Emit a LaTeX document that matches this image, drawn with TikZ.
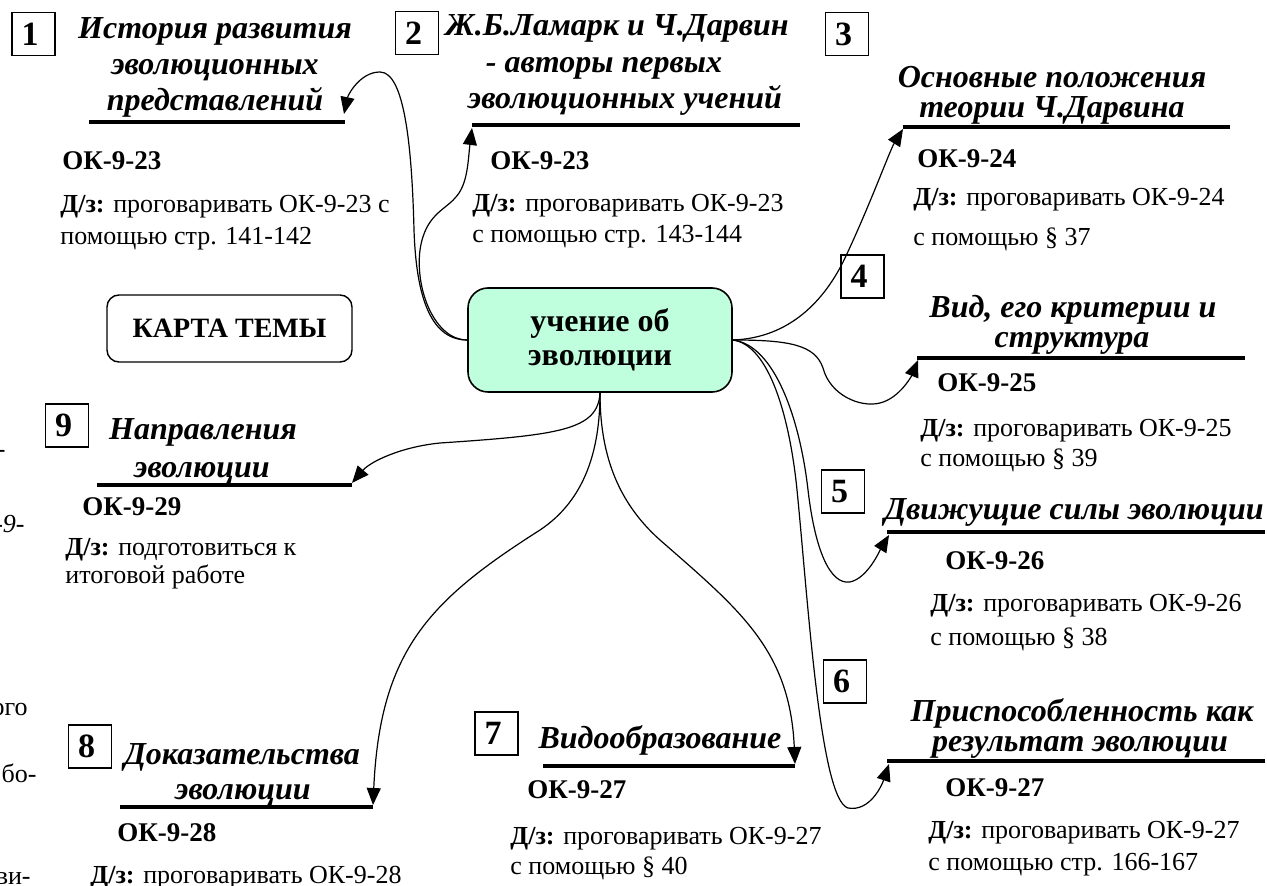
\documentclass[tikz,border=0pt]{standalone}
\usepackage{fontspec}
\setmainfont{Liberation Serif}
\usetikzlibrary{arrows.meta}
\definecolor{mint}{RGB}{191,255,221}
\newcommand\numtxt[1]{\makebox[12pt][l]{#1}}
\begin{document}
\begin{tikzpicture}[x=0.5pt,y=-0.5pt,
  numbox/.style={draw,line width=0.7pt,minimum width=21.5pt,minimum height=21.5pt,inner sep=0pt,font=\fontsize{17}{17}\selectfont\bfseries},
  ttl/.style={anchor=base,inner sep=0pt,font=\fontsize{16}{18}\selectfont\bfseries\itshape},
  ok/.style={anchor=base west,inner sep=0pt,font=\fontsize{13.5}{15}\selectfont\bfseries},
  dz/.style={anchor=base west,inner sep=0pt,font=\fontsize{13}{15}\selectfont},
  frag/.style={anchor=base east,inner sep=0pt,font=\fontsize{13}{15}\selectfont},
  uline/.style={line width=2pt},
  conn/.style={line width=0.6pt,-{Triangle[length=8.5pt,width=7pt]}},
  hub/.style={draw,fill=mint,line width=0.8pt,rounded corners=10pt,minimum width=132pt,minimum height=52pt,align=center,font=\fontsize{16}{17}\selectfont\bfseries},
  kbox/.style={draw,line width=0.7pt,rounded corners=6pt,minimum width=122.5pt,minimum height=33.5pt,font=\fontsize{14}{14}\selectfont\bfseries}]
\fill[white] (0,0) rectangle (1267,886);
\useasboundingbox (0,0) rectangle (1267,886);

% centre
\node[hub] (c) at (600,340) {учение об\\эволюции};
\node[kbox] (karta) at (229.5,328.5) {КАРТА ТЕМЫ};

% number boxes
\node[numbox] (n1) at (33.5,34) {\numtxt{1}};
\node[numbox] (n2) at (417,33) {\numtxt{2}};
\node[numbox] (n3) at (847,34) {\numtxt{3}};
\node[numbox] (n4) at (862.5,276.5) {\numtxt{4}};
\node[numbox] (n5) at (843,491.5) {\numtxt{5}};
\node[numbox] (n6) at (845,681.5) {\numtxt{6}};
\node[numbox] (n7) at (496.5,733.5) {\numtxt{7}};
\node[numbox] (n8) at (90,746.5) {\numtxt{8}};
\node[numbox] (n9) at (67,425.5) {\numtxt{9}};

% 1
\node[ttl] (t1a) at (215,39) {История развития};
\node[ttl] (t1b) at (215,75) {эволюционных};
\node[ttl] (t1c) at (215,111) {представлений};
\coordinate (u1l) at (89,122); \coordinate (u1r) at (345,122);
\draw[uline] (u1l) -- (u1r);
\node[ok] (k1) at (62,170) {ОК-9-23};
\node[dz] (d1a) at (60,213) {\textbf{Д/з:} проговаривать ОК-9-23 с};
\node[dz] (d1b) at (60,245) {помощью стр. 141-142};

% 2
\node[ttl] (t2a) at (617,36) {Ж.Б.Ламарк и Ч.Дарвин};
\node[ttl] (t2b) at (604,73) {- авторы первых};
\node[ttl] (t2c) at (625,109) {эволюционных учений};
\coordinate (u2l) at (472,125); \coordinate (u2r) at (800,125);
\draw[uline] (u2l) -- (u2r);
\node[ok] (k2) at (490,170) {ОК-9-23};
\node[dz] (d2a) at (472,212) {\textbf{Д/з:} проговаривать ОК-9-23};
\node[dz] (d2b) at (472,243) {с помощью стр. 143-144};

% 3
\node[ttl] (t3a) at (1052,88) {Основные положения};
\node[ttl] (t3b) at (1052,118) {теории Ч.Дарвина};
\coordinate (u3l) at (903,127); \coordinate (u3r) at (1230,127);
\draw[uline] (u3l) -- (u3r);
\node[ok] (k3) at (917,168) {ОК-9-24};
\node[dz] (d3a) at (913,206) {\textbf{Д/з:} проговаривать ОК-9-24};
\node[dz] (d3b) at (913,246) {с помощью § 37};

% 4
\node[ttl] (t4a) at (1073,318) {Вид, его критерии и};
\node[ttl] (t4b) at (1072,348) {структура};
\coordinate (u4l) at (917,358); \coordinate (u4r) at (1245,358);
\draw[uline] (u4l) -- (u4r);
\node[ok] (k4) at (937,392) {ОК-9-25};
\node[dz] (d4a) at (920,437) {\textbf{Д/з:} проговаривать ОК-9-25};
\node[dz] (d4b) at (920,467) {с помощью § 39};

% 5
\node[ttl] (t5a) at (1074,520) {Движущие силы эволюции};
\coordinate (u5l) at (887,532); \coordinate (u5r) at (1265,532);
\draw[uline] (u5l) -- (u5r);
\node[ok] (k5) at (945,569) {ОК-9-26};
\node[dz] (d5a) at (930,611) {\textbf{Д/з:} проговаривать ОК-9-26};
\node[dz] (d5b) at (930,645) {с помощью § 38};

% 6
\node[ttl] (t6a) at (1082,721) {Приспособленность как};
\node[ttl] (t6b) at (1080,751) {результат эволюции};
\coordinate (u6l) at (887,761); \coordinate (u6r) at (1265,761);
\draw[uline] (u6l) -- (u6r);
\node[ok] (k6) at (945,796) {ОК-9-27};
\node[dz] (d6a) at (928,838) {\textbf{Д/з:} проговаривать ОК-9-27};
\node[dz] (d6b) at (928,870) {с помощью стр. 166-167};

% 7
\node[ttl] (t7a) at (660,748) {Видообразование};
\coordinate (u7l) at (543,766); \coordinate (u7r) at (795,766);
\draw[uline] (u7l) -- (u7r);
\node[ok] (k7) at (527,798) {ОК-9-27};
\node[dz] (d7a) at (510,844) {\textbf{Д/з:} проговаривать ОК-9-27};
\node[dz] (d7b) at (510,874) {с помощью § 40};

% 8
\node[ttl] (t8a) at (242,764) {Доказательства};
\node[ttl] (t8b) at (243,799) {эволюции};
\coordinate (u8l) at (120,807); \coordinate (u8r) at (373,807);
\draw[uline] (u8l) -- (u8r);
\node[ok] (k8) at (117,841) {ОК-9-28};
\node[dz] (d8a) at (90,883) {\textbf{Д/з:} проговаривать ОК-9-28};

% 9
\node[ttl] (t9a) at (203,440) {Направления};
\node[ttl] (t9b) at (202,478) {эволюции};
\coordinate (u9l) at (97,485); \coordinate (u9r) at (352,485);
\draw[uline] (u9l) -- (u9r);
\node[ok] (k9) at (82,516) {ОК-9-29};
\node[dz] (d9a) at (65,555) {\textbf{Д/з:} подготовиться к};
\node[dz] (d9b) at (65,583) {итоговой работе};

% fragments at the left edge
\node[frag] (f1) at (6,458) {-};
\node[frag,font=\fontsize{13}{15}\selectfont\itshape] (f2) at (25,532) {-9-};
\node[frag] (f3) at (28,715) {ого};
\node[frag] (f4) at (37,782) {бо-};
\node[frag] (f5) at (31,884) {ви-};

% arrow tips
\coordinate (tip1) at (344,114);
\coordinate (tip2) at (472,128);
\coordinate (tip3) at (903,129);
\coordinate (tip4) at (918,360);
\coordinate (tip5) at (889,535);
\coordinate (tip6) at (889,764);
\coordinate (tip7) at (795,764);
\coordinate (tip8) at (373,805);
\coordinate (tip9) at (352,483);

% connectors
\draw[conn] (c.west) .. controls (428,340) and (416,290) .. (414,230) .. controls (412,150) and (405,72) .. (380,72) .. controls (360,72) and (348,95) .. (tip1);
\draw[conn] (c.west) .. controls (435,340) and (415,290) .. (420,250) .. controls (425,215) and (445,210) .. (455,198) .. controls (468,185) and (468,160) .. (tip2);
\draw[conn] (c.east) .. controls (790,338) and (825,300) .. (845,258) .. controls (870,205) and (890,150) .. (tip3);
\draw[conn] (c.east) .. controls (790,340) and (815,345) .. (823,368) .. controls (830,395) and (860,408) .. (880,403) .. controls (900,398) and (912,375) .. (tip4);
\draw[conn] (c.east) .. controls (775,345) and (800,420) .. (808,490) .. controls (815,550) and (830,585) .. (850,582) .. controls (868,578) and (880,550) .. (tip5);
\draw[conn] (c.east) .. controls (770,345) and (790,420) .. (797,490) .. controls (808,600) and (820,800) .. (848,808) .. controls (870,812) and (882,785) .. (tip6);
\draw[conn] (c.south) .. controls (600,450) and (615,500) .. (660,540) .. controls (740,610) and (790,650) .. (tip7);
\draw[conn] (c.south) .. controls (600,450) and (585,500) .. (540,530) .. controls (430,600) and (380,650) .. (tip8);
\draw[conn] (c.south) .. controls (598,430) and (560,435) .. (440,443) .. controls (400,447) and (370,462) .. (tip9);
\end{tikzpicture}
\end{document}
